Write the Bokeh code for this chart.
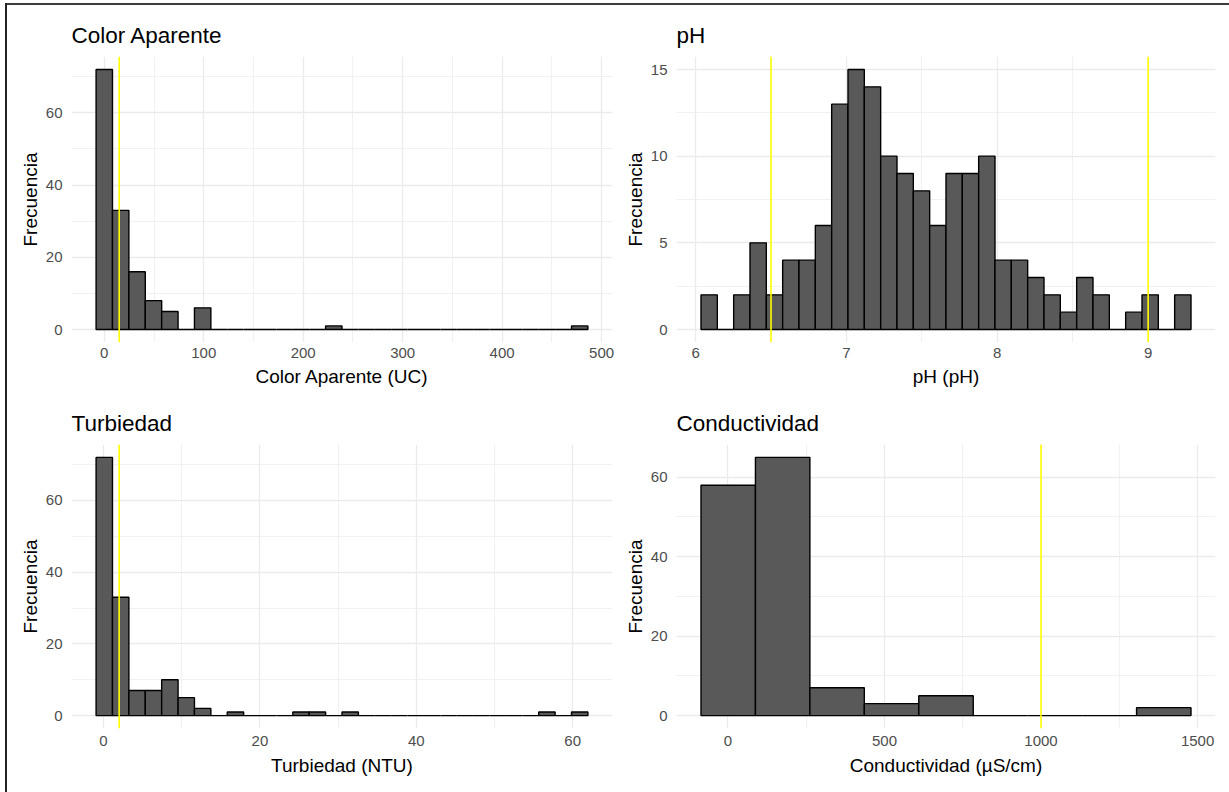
from bokeh.plotting import figure
from bokeh.models import FixedTicker, Span, Range1d, InlineStyleSheet
from bokeh.layouts import gridplot
from bokeh.embed import file_html
from bokeh.resources import INLINE

# ---------------- data ----------------
color_counts = [72, 33, 16, 8, 5, 0, 6, 0, 0, 0, 0, 0, 0, 0, 1,
                0, 0, 0, 0, 0, 0, 0, 0, 0, 0, 0, 0, 0, 0, 1]
color_bin_min, color_bin_max = 0.0, 478.0
color_limits = [15]

ph_counts = [2, 0, 2, 5, 2, 4, 4, 6, 13, 15, 14, 10, 9, 8, 6,
             9, 9, 10, 4, 4, 3, 2, 1, 3, 2, 0, 1, 2, 0, 2]
ph_bin_min, ph_bin_max = 6.09, 9.23
ph_limits = [6.5, 9.0]

turb_counts = [72, 33, 7, 7, 10, 5, 2, 0, 1, 0, 0, 0, 1, 1, 0,
               1, 0, 0, 0, 0, 0, 0, 0, 0, 0, 0, 0, 1, 0, 1]
turb_bin_min, turb_bin_max = 0.1, 60.9
turb_limits = [2]

cond_counts = [58, 65, 7, 3, 5, 0, 0, 0, 2]
cond_bin_min, cond_bin_max = 1.0, 1392.0
cond_limits = [1000]

color_xticks, color_xminor = [0, 100, 200, 300, 400, 500], [50, 150, 250, 350, 450]
ph_xticks, ph_xminor = [6, 7, 8, 9], [6.5, 7.5, 8.5]
turb_xticks, turb_xminor = [0, 20, 40, 60], [10, 30, 50]
cond_xticks, cond_xminor = [0, 500, 1000, 1500], [250, 750, 1250]
y60_ticks, y60_minor = [0, 20, 40, 60], [10, 30, 50, 70]
y15_ticks, y15_minor = [0, 5, 10, 15], [2.5, 7.5, 12.5]

FONT = "Liberation Sans"


def make_hist(title, xlabel, counts, lo, hi, limits, xt, xm, yt, ym,
              width, height, mbl, mbr, mbt, mbb, xls, xas):
    n = len(counts)
    w = (hi - lo) / (n - 1)
    lefts = [lo + (k - 0.5) * w for k in range(n)]
    rights = [lo + (k + 0.5) * w for k in range(n)]
    x0, x1 = lefts[0], rights[-1]
    xpad = 0.05 * (x1 - x0)
    ymax = max(counts)
    ypad = 0.05 * ymax

    p = figure(width=width, height=height, output_backend="svg",
               toolbar_location=None, title=title,
               x_range=Range1d(x0 - xpad, x1 + xpad),
               y_range=Range1d(-ypad, ymax + ypad),
               min_border_left=mbl, min_border_right=mbr,
               min_border_top=mbt, min_border_bottom=mbb)
    p.outline_line_color = None
    p.background_fill_color = "white"
    p.border_fill_color = "white"

    p.title.text_font = FONT
    p.title.text_font_size = "22.5px"
    p.title.text_font_style = "normal"
    p.title.text_color = "black"
    p.title.align = "left"
    p.title.standoff = 18

    p.xaxis.ticker = FixedTicker(ticks=xt, minor_ticks=xm)
    p.yaxis.ticker = FixedTicker(ticks=yt, minor_ticks=ym)
    p.xaxis.axis_label = xlabel
    p.yaxis.axis_label = "Frecuencia"
    for ax in (p.xaxis[0], p.yaxis[0]):
        ax.axis_line_color = None
        ax.major_tick_line_color = None
        ax.minor_tick_line_color = None
        ax.major_tick_out = 0
        ax.minor_tick_out = 0
        ax.major_label_text_font = FONT
        ax.major_label_text_font_size = "15px"
        ax.major_label_text_color = "#4D4D4D"
        ax.axis_label_text_font = FONT
        ax.axis_label_text_font_size = "19px"
        ax.axis_label_text_font_style = "normal"
        ax.axis_label_text_color = "black"
    p.xaxis.major_label_standoff = xls
    p.xaxis.axis_label_standoff = xas
    p.yaxis.major_label_standoff = 9
    p.yaxis.axis_label_standoff = 2

    for g in (p.xgrid[0], p.ygrid[0]):
        g.grid_line_color = "#EBEBEB"
        g.grid_line_width = 1.3
        g.minor_grid_line_color = "#EBEBEB"
        g.minor_grid_line_width = 0.7

    p.quad(left=lefts, right=rights, bottom=[0] * n, top=counts,
           fill_color="#595959", line_color="black", line_width=1.4)
    for lim in limits:
        p.add_layout(Span(location=lim, dimension="height",
                          line_color="#FFFF00", line_width=1.6))
    return p


p1 = make_hist("Color Aparente", "Color Aparente (UC)", color_counts,
               color_bin_min, color_bin_max, color_limits,
               color_xticks, color_xminor, y60_ticks, y60_minor,
               618, 396, 71, 6, 56, 54, 5, 5)
p2 = make_hist("pH", "pH (pH)", ph_counts, ph_bin_min, ph_bin_max, ph_limits,
               ph_xticks, ph_xminor, y15_ticks, y15_minor,
               603, 396, 58, 6, 56, 54, 5, 5)
p3 = make_hist("Turbiedad", "Turbiedad (NTU)", turb_counts,
               turb_bin_min, turb_bin_max, turb_limits,
               turb_xticks, turb_xminor, y60_ticks, y60_minor,
               618, 390, 71, 6, 48, 58, 7, 6)
p4 = make_hist("Conductividad", "Conductividad (\u00b5S/cm)", cond_counts,
               cond_bin_min, cond_bin_max, cond_limits,
               cond_xticks, cond_xminor, y60_ticks, y60_minor,
               603, 390, 58, 6, 48, 58, 7, 6)

frame_css = InlineStyleSheet(css="""
:host::before { content: ''; position: absolute; left: 5px; top: 3px;
  width: 1224px; height: 2px; background: #3c3c3c; z-index: 100; }
:host::after { content: ''; position: absolute; left: 5px; top: 3px;
  width: 1.5px; height: 789px; background: #222222; z-index: 100; }
""")

grid = gridplot([[p1, p2], [p3, p4]], toolbar_location=None)
grid.stylesheets = [frame_css]

open("out.html", "w").write(file_html(grid, INLINE))
